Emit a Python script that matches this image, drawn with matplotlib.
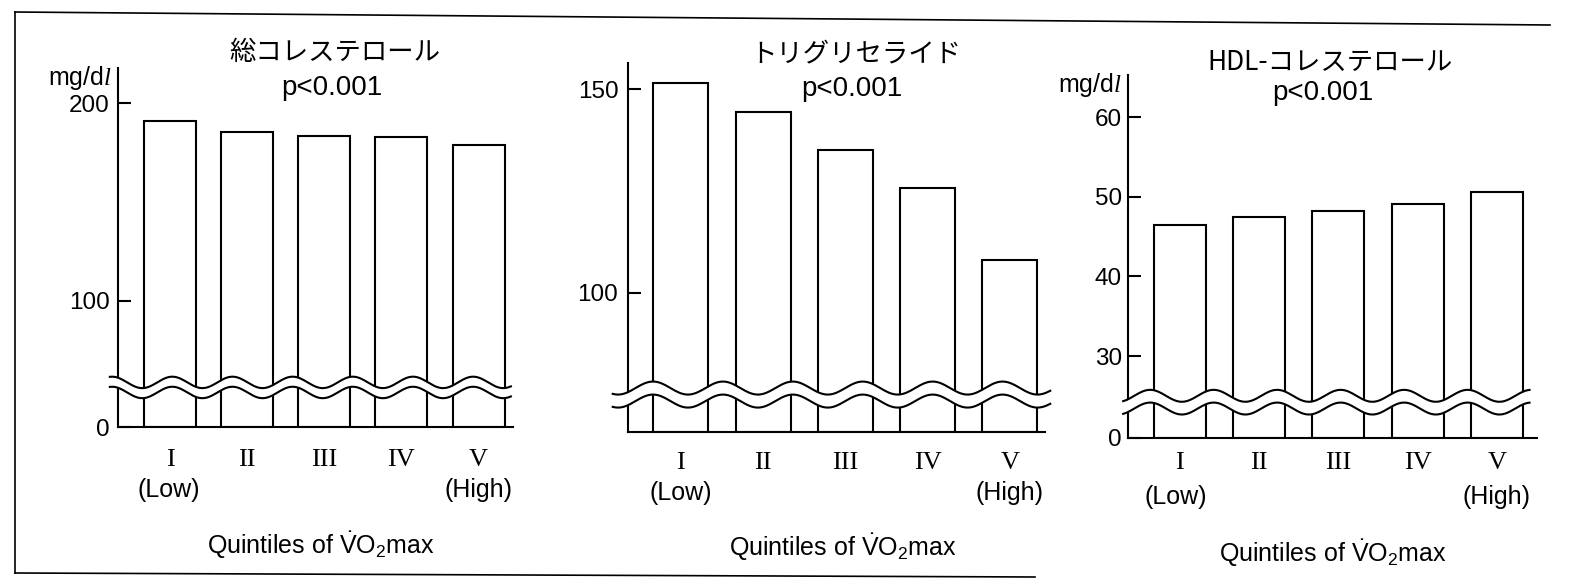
import matplotlib
matplotlib.use("Agg")
import matplotlib.pyplot as plt
from matplotlib.lines import Line2D
import numpy as np

# ---------------- datos ----------------
quintiles = ["I", "II", "III", "IV", "V"]
extremos = ["(Low)", "", "", "", "(High)"]

colesterol_total = [191.0, 185.5, 183.6, 183.1, 178.7]
trigliceridos = [151.5, 144.4, 135.0, 125.7, 108.1]
hdl = [46.4, 47.4, 48.2, 49.1, 50.6]

titulos = ["総コレステロール", "トリグリセライド", "HDL-コレステロール"]
pvalor = "p<0.001"
unidad = r"mg/d$\mathit{l}$"
xlabel = r"Quintiles of $\dot{\mathrm{V}}\mathrm{O}_2$max"

ticks_tc = [0, 100, 200]
ticks_tg = [100, 150]
ticks_hdl = [0, 30, 40, 50, 60]
##########################################

W, H = 1580, 581
plt.rcParams["font.family"] = ["Liberation Sans", "Noto Sans CJK JP"]
plt.rcParams["mathtext.fontset"] = "custom"
plt.rcParams["mathtext.rm"] = "Liberation Sans"
plt.rcParams["mathtext.it"] = "Liberation Serif:italic"

fig = plt.figure(figsize=(W / 100, H / 100), dpi=100)
fig.patch.set_facecolor("white")

# caja en pixeles (izq, arriba, der, abajo) y demas ajustes de cada panel
paneles = [
    dict(valores=colesterol_total, ticks=ticks_tc, caja=(118, 68, 513, 427),
         xlim=(-0.674, 4.447), ancho=0.674, ytop=217.9, brk=50, f0=36.0,
         ondas=(58.6, 53.5), amp=2.9, periodo=0.78, fase=0.03, xw=(-0.78, 4.42),
         pad=5.8, titulo_x=2.14, titulo_dy=16, p_x=2.1, p_dy=-20, unidad=True,
         dy_num=33, dy_ext=63, dy_lab=118, lab_x=1.96, ext_x=(-0.02, 0.0)),
    dict(valores=trigliceridos, ticks=ticks_tg, caja=(628, 63, 1045, 432),
         xlim=(-0.644, 4.426), ancho=0.669, ytop=156.5, brk=70, f0=65.8,
         ondas=(76.6, 73.4), amp=1.6, periodo=0.85, fase=-0.34, xw=(-0.83, 4.49),
         pad=7.0, titulo_x=2.12, titulo_dy=8, p_x=2.08, p_dy=-26, unidad=False,
         dy_num=31, dy_ext=61, dy_lab=115, lab_x=1.97, ext_x=(0.0, 0.0)),
    dict(valores=hdl, ticks=ticks_hdl, caja=(1128, 75, 1537, 438),
         xlim=(-0.649, 4.504), ancho=0.655, ytop=65.3, brk=22, f0=19.7,
         ondas=(25.0, 23.4), amp=0.75, periodo=0.8, fase=-0.37, xw=(-0.71, 4.41),
         pad=4.3, titulo_x=1.9, titulo_dy=13, p_x=1.8, p_dy=-18, unidad=True,
         dy_num=25, dy_ext=59, dy_lab=115, lab_x=1.93, ext_x=(-0.05, 0.0)),
]

lw = 1.5
x = np.arange(len(quintiles))

for k, p in enumerate(paneles):
    l, t, r, b = p["caja"]
    ax = fig.add_axes([l / W, (H - b) / H, (r - l) / W, (b - t) / H])

    brk, f0 = p["brk"], p["f0"]

    def fwd(v, brk=brk, f0=f0):
        v = np.asarray(v, dtype=float)
        return np.where(v < brk, f0 + v * (brk - f0) / brk, v)

    def inv(u, brk=brk, f0=f0):
        u = np.asarray(u, dtype=float)
        return np.where(u < brk, (u - f0) * brk / (brk - f0), u)

    ax.set_yscale("function", functions=(fwd, inv))
    ax.set_ylim(0, p["ytop"])
    ax.set_xlim(*p["xlim"])

    ax.bar(x, p["valores"], width=p["ancho"], color="white", edgecolor="black",
           linewidth=lw, zorder=2)

    for s in ["top", "right"]:
        ax.spines[s].set_visible(False)
    for s in ["left", "bottom"]:
        ax.spines[s].set_linewidth(lw)

    ax.set_yticks(p["ticks"])
    ax.set_yticklabels([str(v) for v in p["ticks"]], fontsize=17.5)
    ax.tick_params(axis="y", direction="in", length=9, width=lw, pad=p["pad"])
    ax.set_xticks(x)
    ax.set_xticklabels([])
    ax.tick_params(axis="x", length=0)

    # ondas de corte del eje
    xw = np.linspace(p["xw"][0], p["xw"][1], 400)
    ola = p["amp"] * np.cos(2 * np.pi * (xw - p["fase"]) / p["periodo"])
    y_sup = p["ondas"][0] + ola
    y_inf = p["ondas"][1] + ola
    ax.fill_between(xw, y_inf, y_sup, color="white", zorder=3, clip_on=False, linewidth=0)
    ax.plot(xw, y_sup, color="black", lw=lw, zorder=4, clip_on=False)
    ax.plot(xw, y_inf, color="black", lw=lw, zorder=4, clip_on=False)

    # etiquetas de quintiles
    for i, q in enumerate(quintiles):
        ax.annotate(q, xy=(i, 0), xycoords=("data", "axes fraction"),
                    xytext=(0, -p["dy_num"] * 0.72), textcoords="offset points",
                    ha="center", va="center", fontsize=19, family="Liberation Serif")
        if extremos[i]:
            ax.annotate(extremos[i], xy=(i + (p["ext_x"][0] if i == 0 else p["ext_x"][1]), 0),
                        xycoords=("data", "axes fraction"),
                        xytext=(0, -p["dy_ext"] * 0.72), textcoords="offset points",
                        ha="center", va="center", fontsize=18)
    ax.annotate(xlabel, xy=(p["lab_x"], 0), xycoords=("data", "axes fraction"),
                xytext=(0, -p["dy_lab"] * 0.72), textcoords="offset points",
                ha="center", va="center", fontsize=18)

    ax.annotate(titulos[k], xy=(p["titulo_x"], 1), xycoords=("data", "axes fraction"),
                xytext=(0, p["titulo_dy"] * 0.72), textcoords="offset points",
                ha="center", va="center", fontsize=19,
                family=["Noto Sans CJK JP", "Liberation Sans"])
    ax.annotate(pvalor, xy=(p["p_x"], 1), xycoords=("data", "axes fraction"),
                xytext=(0, p["p_dy"] * 0.72), textcoords="offset points",
                ha="center", va="center", fontsize=20)
    if p["unidad"]:
        ax.annotate(unidad, xy=(0, 1), xycoords="axes fraction",
                    xytext=(-4, -10 * 0.72), textcoords="offset points",
                    ha="right", va="center", fontsize=18)

# marco del recorte escaneado
fig.add_artist(Line2D([15 / W, 15 / W], [1 - 12 / H, 1 - 573 / H], color="black", lw=1.2))
fig.add_artist(Line2D([15 / W, 1550 / W], [1 - 12 / H, 1 - 25 / H], color="black", lw=1.2))
fig.add_artist(Line2D([15 / W, 1035 / W], [1 - 573 / H, 1 - 577 / H], color="black", lw=1.2))

plt.savefig("out.png", dpi=100)
plt.close("all")
